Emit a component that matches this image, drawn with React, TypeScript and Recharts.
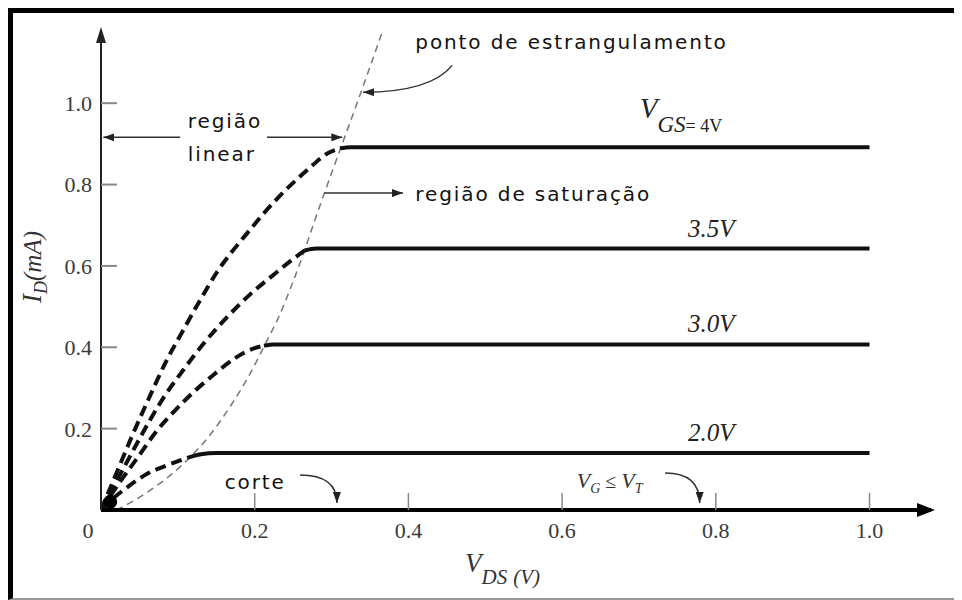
import React from "react";
import { LineChart, Line, XAxis, YAxis, ReferenceDot, ReferenceLine } from "recharts";

const SERIF = '"Liberation Serif", "Times New Roman", serif';
const SANS = '"DejaVu Sans", Verdana, sans-serif';

// axis ticks
const ticksX = [0, 0.2, 0.4, 0.6, 0.8, 1.0];
const ticksY = [0.2, 0.4, 0.6, 0.8, 1.0];

// linear region (dashed), [VDS, ID]
const lin40 = [[0, 0], [0.02, 0.09], [0.04, 0.18], [0.06, 0.265], [0.086, 0.37], [0.107, 0.442], [0.129, 0.516], [0.151, 0.585], [0.19, 0.68], [0.229, 0.765], [0.268, 0.835], [0.295, 0.877], [0.311, 0.889]];
const lin35 = [[0, 0], [0.02, 0.07], [0.04, 0.14], [0.064, 0.222], [0.081, 0.275], [0.107, 0.344], [0.133, 0.408], [0.164, 0.474], [0.194, 0.53], [0.229, 0.585], [0.25, 0.617], [0.265, 0.638]];
const lin30 = [[0, 0], [0.025, 0.07], [0.048, 0.13], [0.072, 0.193], [0.097, 0.246], [0.121, 0.291], [0.147, 0.333], [0.175, 0.374], [0.2, 0.398], [0.212, 0.404]];
const lin20 = [[0, 0], [0.018, 0.032], [0.035, 0.057], [0.06, 0.089], [0.086, 0.11], [0.112, 0.128]];

// saturation region (solid)
const sat40 = [[0.311, 0.889], [0.325, 0.892], [1.0, 0.892]];
const sat35 = [[0.265, 0.638], [0.28, 0.643], [1.0, 0.643]];
const sat30 = [[0.212, 0.404], [0.225, 0.407], [1.0, 0.407]];
const sat20 = [[0.112, 0.128], [0.13, 0.137], [0.15, 0.14], [1.0, 0.14]];

// pinch-off locus (thin dashed)
const pinch = [[0.02, 0], [0.04, 0.02], [0.065, 0.05], [0.09, 0.085], [0.116, 0.13], [0.142, 0.185], [0.17, 0.26], [0.194, 0.335], [0.211, 0.398], [0.233, 0.482], [0.25, 0.562], [0.263, 0.628], [0.276, 0.7], [0.289, 0.77], [0.31, 0.88], [0.337, 1.02], [0.365, 1.17]];

// curve labels
const curveLabels = ["3.5V", "3.0V", "2.0V"];
const curveLabelY = [0.671, 0.437, 0.17];

// annotation texts (start x, middle y)
const notes = [
  { x: 0.409, y: 1.15, text: "ponto de estrangulamento" },
  { x: 0.113, y: 0.956, text: "região" },
  { x: 0.113, y: 0.874, text: "linear" },
  { x: 0.409, y: 0.776, text: "região de saturação" },
  { x: 0.161, y: 0.069, text: "corte" },
];

// arrows: from -> to, bend kind
const arrows = [
  { from: [0.103, 0.916], to: [0.003, 0.916], bend: "none" },
  { from: [0.216, 0.916], to: [0.314, 0.916], bend: "none" },
  { from: [0.291, 0.779], to: [0.393, 0.779], bend: "none" },
  { from: [0.457, 1.093], to: [0.341, 1.027], bend: "left" },
  { from: [0.259, 0.086], to: [0.307, 0.017], bend: "down" },
  { from: [0.734, 0.091], to: [0.779, 0.017], bend: "down" },
];

const pts = (a: number[][]) => a.map(([x, y]) => ({ x, y }));

const Defs = () => (
  <defs>
    <marker id="head" viewBox="0 0 11 8" refX="11" refY="4" markerWidth="11" markerHeight="8" markerUnits="userSpaceOnUse" orient="auto">
      <path d="M0,0L11,4L0,8z" fill="#222" />
    </marker>
    <marker id="axX" viewBox="0 0 18 14" refX="14" refY="7" markerWidth="18" markerHeight="14" markerUnits="userSpaceOnUse" orient="auto">
      <path d="M0,0L18,7L0,14z" fill="#000" />
    </marker>
    <marker id="axY" viewBox="0 0 16 10" refX="11" refY="5" markerWidth="16" markerHeight="10" markerUnits="userSpaceOnUse" orient="auto-start-reverse">
      <path d="M0,0L16,5L0,10z" fill="#222" />
    </marker>
  </defs>
);

const YTick = (p: any) => {
  const { x, y, payload } = p;
  const ax = x + 9;
  return (
    <g>
      <line x1={ax} x2={ax + 16} y1={y} y2={y} stroke="#888" strokeWidth={2} />
      <text x={x} y={y} dy="0.36em" textAnchor="end" fontFamily={SERIF} fontSize={22} fill="#3a3a3a">
        {payload.value.toFixed(1)}
      </text>
    </g>
  );
};

const XTick = (p: any) => {
  const { x, y, payload } = p;
  const v = payload.value;
  return (
    <g>
      {v > 0 && <line x1={x} x2={x} y1={y - 17} y2={y} stroke="#888" strokeWidth={1.5} />}
      <text x={v === 0 ? x - 13 : x} y={y + 28} textAnchor="middle" fontFamily={SERIF} fontSize={22} fill="#3a3a3a">
        {v === 0 ? "0" : v.toFixed(1)}
      </text>
    </g>
  );
};

const arrowShape = (bend: string) => (p: any) => {
  const { x1, y1, x2, y2 } = p;
  let d = `M${x1},${y1}L${x2},${y2}`;
  if (bend === "down") d = `M${x1},${y1}Q${x2},${y1} ${x2},${y2}`;
  if (bend === "left") d = `M${x1},${y1}Q${x1 - 22},${y2} ${x2},${y2}`;
  return <path d={d} fill="none" stroke="#333" strokeWidth={1.5} markerEnd="url(#head)" />;
};

const noteShape = (text: string) => (p: any) => (
  <text x={p.cx} y={p.cy} dominantBaseline="central" fontFamily={SANS} fontSize={20} letterSpacing={1.9} fill="#111">
    {text}
  </text>
);

const curveShape = (text: string) => (p: any) => (
  <text x={p.cx} y={p.cy} textAnchor="middle" fontFamily={SERIF} fontStyle="italic" fontSize={25} fill="#222">
    {text}
  </text>
);

const VgsShape = (p: any) => (
  <text x={p.cx} y={p.cy} fontFamily={SERIF} fontStyle="italic" fill="#222">
    <tspan fontSize={29}>V</tspan>
    <tspan fontSize={23} dy={14}>GS</tspan>
    <tspan fontSize={18} fontStyle="normal">= 4V</tspan>
  </text>
);

const VgvtShape = (p: any) => (
  <text x={p.cx} y={p.cy} fontFamily={SERIF} fontStyle="italic" fill="#333">
    <tspan fontSize={22}>V</tspan>
    <tspan fontSize={14} dy={5}>G</tspan>
    <tspan fontSize={20} dy={-5} fontStyle="normal"> ≤ </tspan>
    <tspan fontSize={22}>V</tspan>
    <tspan fontSize={14} dy={5}>T</tspan>
  </text>
);

const YLabel = (props: any) => {
  const vb = props.viewBox;
  const cx = vb.x + 33;
  const cy = vb.y + vb.height / 2 - 4;
  return (
    <g>
      <Defs />
      <text x={cx} y={cy} transform={`rotate(-90, ${cx}, ${cy})`} textAnchor="middle" fontFamily={SERIF} fontStyle="italic" fill="#333">
        <tspan fontSize={27}>I</tspan>
        <tspan fontSize={18} dy={6}>D</tspan>
        <tspan fontSize={25} dy={-6}>(mA)</tspan>
      </text>
    </g>
  );
};

const XLabel = (props: any) => {
  const vb = props.viewBox;
  return (
    <text x={vb.x + 364} y={vb.y + 62} fontFamily={SERIF} fontStyle="italic" fill="#333">
      <tspan fontSize={27}>V</tspan>
      <tspan fontSize={21} dy={12}>DS</tspan>
      <tspan fontSize={21} dx={6}>(V)</tspan>
    </text>
  );
};

const dashed = { stroke: "#111", strokeWidth: 4, strokeDasharray: "11 6" };
const solid = { stroke: "#111", strokeWidth: 4 };

export default function App() {
  return (
    <div style={{ position: "relative", width: 954, height: 592 }}>
      <LineChart width={954} height={592} margin={{ top: 24, right: 31, bottom: 30, left: 0 }}>
        <XAxis
          dataKey="x"
          type="number"
          domain={[0, 1.08]}
          ticks={ticksX}
          interval={0}
          allowDataOverflow
          height={60}
          tickSize={0}
          tickMargin={0}
          tick={<XTick />}
          axisLine={{ stroke: "#000", strokeWidth: 4, markerEnd: "url(#axX)" }}
          label={XLabel}
        />
        <YAxis
          type="number"
          domain={[0, 1.175]}
          ticks={ticksY}
          interval={0}
          allowDataOverflow
          width={93}
          tickSize={0}
          tickMargin={9}
          tick={<YTick />}
          axisLine={{ stroke: "#222", strokeWidth: 2, markerStart: "url(#axY)" }}
          label={YLabel}
        />

        <Line data={pts(pinch)} dataKey="y" type="monotone" stroke="#777" strokeWidth={1.5} strokeDasharray="7 5" dot={false} activeDot={false} isAnimationActive={false} />

        <Line data={pts(lin40)} dataKey="y" type="monotone" {...dashed} dot={false} activeDot={false} isAnimationActive={false} />
        <Line data={pts(lin35)} dataKey="y" type="monotone" {...dashed} dot={false} activeDot={false} isAnimationActive={false} />
        <Line data={pts(lin30)} dataKey="y" type="monotone" {...dashed} dot={false} activeDot={false} isAnimationActive={false} />
        <Line data={pts(lin20)} dataKey="y" type="monotone" {...dashed} dot={false} activeDot={false} isAnimationActive={false} />

        <Line data={pts(sat40)} dataKey="y" type="monotone" {...solid} dot={false} activeDot={false} isAnimationActive={false} />
        <Line data={pts(sat35)} dataKey="y" type="monotone" {...solid} dot={false} activeDot={false} isAnimationActive={false} />
        <Line data={pts(sat30)} dataKey="y" type="monotone" {...solid} dot={false} activeDot={false} isAnimationActive={false} />
        <Line data={pts(sat20)} dataKey="y" type="monotone" {...solid} dot={false} activeDot={false} isAnimationActive={false} />

        <ReferenceDot x={0.012} y={0.02} r={7} fill="#000" stroke="none" />

        {arrows.map((a, i) => (
          <ReferenceLine
            key={"a" + i}
            segment={[{ x: a.from[0], y: a.from[1] }, { x: a.to[0], y: a.to[1] }]}
            ifOverflow="visible"
            shape={arrowShape(a.bend)}
          />
        ))}

        {notes.map((n, i) => (
          <ReferenceDot key={"n" + i} x={n.x} y={n.y} r={0} shape={noteShape(n.text)} />
        ))}

        {curveLabels.map((t, i) => (
          <ReferenceDot key={"c" + i} x={0.794} y={curveLabelY[i]} r={0} shape={curveShape(t)} />
        ))}
        <ReferenceDot x={0.701} y={0.963} r={0} shape={VgsShape} />
        <ReferenceDot x={0.619} y={0.054} r={0} shape={VgvtShape} />
      </LineChart>
      <div
        style={{
          position: "absolute",
          left: 0,
          top: 0,
          width: 960,
          height: 592,
          boxSizing: "border-box",
          borderTop: "5px solid #000",
          borderLeft: "5px solid #000",
          borderBottom: "2px solid #999",
          pointerEvents: "none",
        }}
      />
    </div>
  );
}
